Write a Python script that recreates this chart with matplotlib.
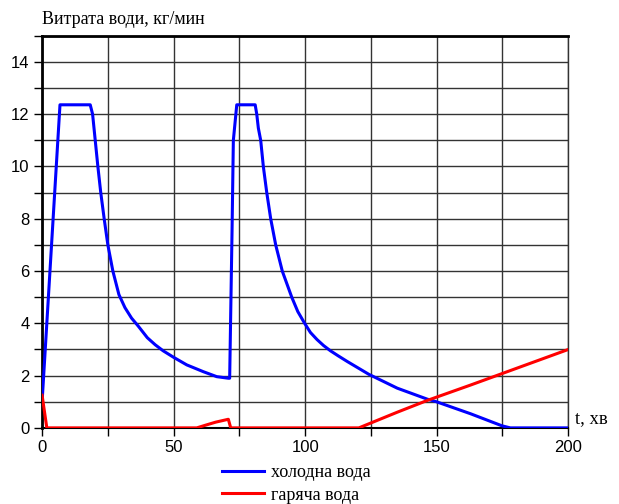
import matplotlib
matplotlib.use("Agg")
import matplotlib.pyplot as plt
from matplotlib.ticker import MultipleLocator

# Cold water (blue)
t_cold = [0, 6.8, 18.3, 19.2, 20.2, 21.2, 22.3, 23.6, 25.0, 26.9, 29.2, 31.5, 34.0, 36.5,
          40.0, 43.0, 46.0, 50.0, 55.0, 61.3, 66.4, 70.8, 71.3, 72.2, 72.7, 74.0, 81.0,
          81.6, 82.2, 83.1, 84.1, 85.4, 86.9, 88.8, 91.3, 94.9, 97.2, 99.8, 102.0, 104.5,
          107.0, 109.6, 112.5, 116.0, 124.2, 135.0, 146.4, 149.9, 162.9, 174.8, 178.0, 200]
y_cold = [1.0, 12.36, 12.36, 12.0, 11.0, 10.0, 9.0, 8.0, 7.0, 6.0, 5.1, 4.6, 4.2, 3.9,
          3.45, 3.18, 2.95, 2.7, 2.41, 2.15, 1.96, 1.9, 1.9, 7.5, 11.0, 12.36, 12.36,
          12.0, 11.47, 11.0, 10.0, 9.0, 8.0, 7.0, 6.0, 5.0, 4.45, 4.0, 3.65, 3.38,
          3.15, 2.95, 2.76, 2.54, 2.05, 1.52, 1.1, 1.0, 0.54, 0.08, 0.0, 0.0]

# Hot water (red)
t_hot = [0, 1.8, 58.8, 62, 66, 70.8, 71.7, 120.4, 135.0, 146.4, 162.9, 200]
y_hot = [1.25, 0.0, 0.0, 0.1, 0.22, 0.33, 0.0, 0.0, 0.6, 1.05, 1.64, 3.0]

labels = ["холодна вода", "гаряча вода"]

fig = plt.figure(figsize=(6.19, 5.04), dpi=100)
ax = fig.add_axes([0.068, 0.151, 0.850, 0.778])

ax.plot(t_cold, y_cold, color="#0000ff", lw=2.2, label=labels[0], zorder=3)
ax.plot(t_hot, y_hot, color="#ff0000", lw=2.2, label=labels[1], zorder=3)

ax.set_xlim(0, 200)
ax.set_ylim(0, 15)
ax.xaxis.set_major_locator(MultipleLocator(50))
ax.xaxis.set_minor_locator(MultipleLocator(25))
ax.yaxis.set_major_locator(MultipleLocator(2))
ax.yaxis.set_minor_locator(MultipleLocator(1))
ax.grid(True, which="both", color="#333333", lw=1.0, zorder=1)
ax.tick_params(which="both", direction="out", length=6, width=1, color="black",
               labelsize=12, pad=3)
for lab in ax.get_xticklabels() + ax.get_yticklabels():
    lab.set_family("Liberation Sans")

for s in ["left", "top"]:
    ax.spines[s].set_linewidth(2)
    ax.spines[s].set_color("black")
ax.spines["bottom"].set_linewidth(1.5)
ax.spines["right"].set_linewidth(1)
ax.spines["right"].set_color("#333333")

fig.text(0.068, 0.953, "Витрата води, кг/мин", family="Liberation Serif", fontsize=13,
         ha="left", va="baseline")
ax.text(1.012, 0.013, "t, хв", transform=ax.transAxes, family="Liberation Serif",
        fontsize=13.5, ha="left", va="baseline")

leg = fig.legend(loc="center left", bbox_to_anchor=(222 / 619, 1 - 484 / 504), ncol=1,
                 frameon=False, borderpad=0, borderaxespad=0,
                 prop={"family": "Liberation Serif", "size": 13}, handlelength=2.35,
                 labelspacing=0.3, handletextpad=0.35)

fig.savefig("out.png", dpi=100)
